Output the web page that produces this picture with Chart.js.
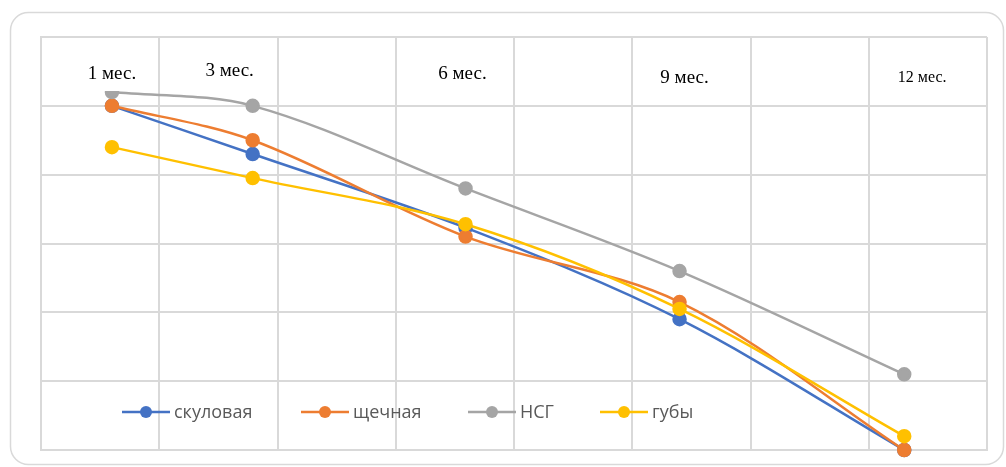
<!DOCTYPE html>
<html>
<head>
<meta charset="utf-8">
<script src="https://cdn.jsdelivr.net/npm/chart.js@4/dist/chart.umd.min.js"></script>
<style>
  html, body { margin: 0; padding: 0; background: #ffffff; }
  #wrap { width: 1006px; height: 467px; }
</style>
</head>
<body>
<div id="wrap"><canvas id="chart" width="1006" height="467"></canvas></div>
<script>
// Observation periods and where they sit on the horizontal grid
const periods = ['1 мес.', '3 мес.', '6 мес.', '9 мес.', '12 мес.'];
const periodX = [0.6, 1.79, 3.59, 5.4, 7.3];

// Series names and values per period
const seriesNames = ['скуловая', 'щечная', 'НСГ', 'губы'];
const zygomatic = [5.0, 4.3, 3.23, 1.9, 0];
const buccal = [5.0, 4.5, 3.1, 2.15, 0];
const nasolabial = [5.2, 5.0, 3.8, 2.6, 1.1];
const lips = [4.4, 3.95, 3.28, 2.05, 0.2];

const seriesValues = [zygomatic, buccal, nasolabial, lips];
const seriesColors = ['#4472C4', '#ED7D31', '#A5A5A5', '#FFC000'];

const GRID = '#d9d9d9';

// Rounded frame around the whole chart
const framePlugin = {
  id: 'frame',
  beforeDraw(chart) {
    const ctx = chart.ctx;
    ctx.save();
    ctx.fillStyle = '#ffffff';
    ctx.fillRect(0, 0, chart.width, chart.height);
    const x = 10.5, y = 12.5, w = 993, h = 452, r = 18;
    ctx.beginPath();
    ctx.moveTo(x + r, y);
    ctx.lineTo(x + w - r, y);
    ctx.arcTo(x + w, y, x + w, y + r, r);
    ctx.lineTo(x + w, y + h - r);
    ctx.arcTo(x + w, y + h, x + w - r, y + h, r);
    ctx.lineTo(x + r, y + h);
    ctx.arcTo(x, y + h, x, y + h - r, r);
    ctx.lineTo(x, y + r);
    ctx.arcTo(x, y, x + r, y, r);
    ctx.closePath();
    ctx.strokeStyle = GRID;
    ctx.lineWidth = 1.5;
    ctx.stroke();
    ctx.restore();
  }
};

// Period captions placed as white text boxes near the top of the plot
const periodLabelPlugin = {
  id: 'periodLabels',
  afterDatasetsDraw(chart, args, opts) {
    const ctx = chart.ctx;
    const xs = chart.scales.x;
    ctx.save();
    periods.forEach((text, i) => {
      const st = opts.styles[i];
      const cx = xs.getPixelForValue(periodX[i]) + st.dx;
      ctx.font = st.size + 'px "Liberation Serif", "Times New Roman", serif';
      const w = ctx.measureText(text).width;
      ctx.fillStyle = '#ffffff';
      ctx.fillRect(cx - w / 2 - 6, st.y - st.size - 4, w + 12, st.size + 16);
      ctx.fillStyle = '#000000';
      ctx.textAlign = 'center';
      ctx.textBaseline = 'alphabetic';
      ctx.fillText(text, cx, st.y);
    });
    ctx.restore();
  }
};

// Legend drawn inside the plot area, near its bottom
const innerLegendPlugin = {
  id: 'innerLegend',
  afterDraw(chart, args, opts) {
    const ctx = chart.ctx;
    ctx.save();
    ctx.font = opts.font;
    ctx.textBaseline = 'middle';
    ctx.textAlign = 'left';
    chart.data.datasets.forEach((ds, i) => {
      const x0 = opts.starts[i];
      const y = opts.y;
      ctx.strokeStyle = ds.borderColor;
      ctx.lineWidth = 2.5;
      ctx.beginPath();
      ctx.moveTo(x0, y);
      ctx.lineTo(x0 + opts.lineLength, y);
      ctx.stroke();
      ctx.fillStyle = ds.borderColor;
      ctx.beginPath();
      ctx.arc(x0 + opts.lineLength / 2, y, 6, 0, Math.PI * 2);
      ctx.fill();
      ctx.fillStyle = '#595959';
      ctx.fillText(ds.label, x0 + opts.lineLength + 4, y + 1);
    });
    ctx.restore();
  }
};

const datasets = seriesNames.map((name, s) => ({
  label: name,
  data: seriesValues[s].map((v, i) => ({ x: periodX[i], y: v })),
  borderColor: seriesColors[s],
  backgroundColor: seriesColors[s],
  pointBackgroundColor: seriesColors[s],
  pointBorderColor: seriesColors[s],
  borderWidth: 2.5,
  pointRadius: 6,
  pointHoverRadius: 6,
  tension: 0.33,
  fill: false,
  clip: false,
  order: seriesNames.length - s
}));

new Chart(document.getElementById('chart'), {
  type: 'line',
  data: { datasets },
  options: {
    responsive: false,
    animation: false,
    devicePixelRatio: 1,
    layout: { padding: { left: 41, top: 37, right: 19, bottom: 17 } },
    plugins: {
      legend: { display: false },
      tooltip: { enabled: false },
      periodLabels: {
        styles: [
          { dx: 0, y: 79, size: 19 },
          { dx: -23, y: 76, size: 19 },
          { dx: -3, y: 79, size: 19 },
          { dx: 5, y: 83, size: 19 },
          { dx: 18, y: 82, size: 16 }
        ]
      },
      innerLegend: {
        starts: [122, 301, 468, 600],
        y: 412,
        lineLength: 48,
        font: '18px "Open Sans", "Liberation Sans", sans-serif'
      }
    },
    scales: {
      x: {
        type: 'linear',
        min: 0,
        max: 8,
        ticks: { display: false, stepSize: 1 },
        grid: { color: GRID, lineWidth: 2, drawTicks: false, tickLength: 0 },
        border: { display: true, color: GRID, width: 2 }
      },
      y: {
        type: 'linear',
        min: 0,
        max: 6,
        ticks: { display: false, stepSize: 1 },
        grid: { color: GRID, lineWidth: 2, drawTicks: false, tickLength: 0 },
        border: { display: true, color: GRID, width: 2 }
      }
    }
  },
  plugins: [framePlugin, periodLabelPlugin, innerLegendPlugin]
});
</script>
</body>
</html>
